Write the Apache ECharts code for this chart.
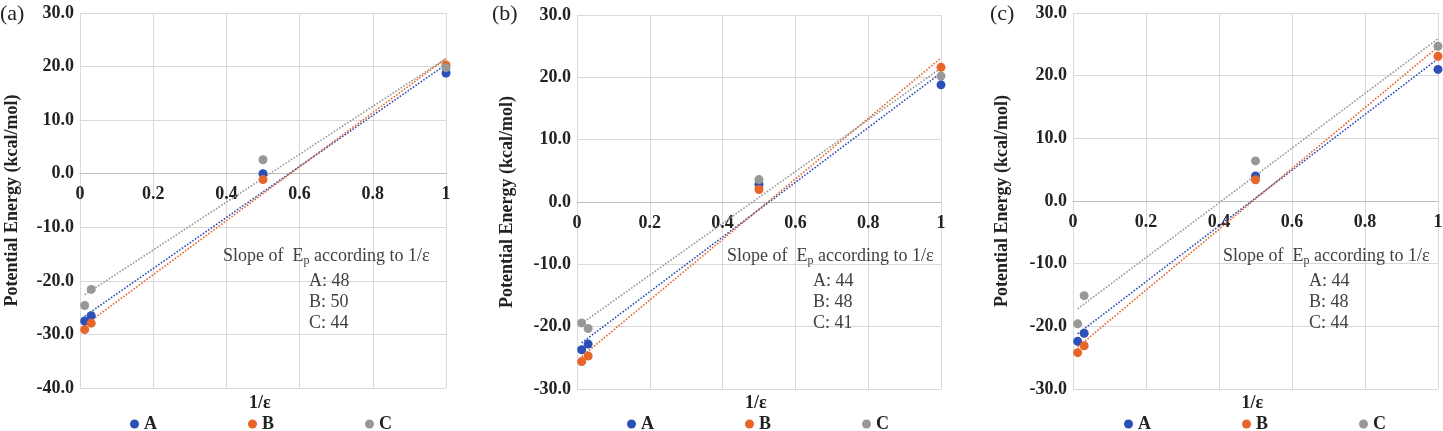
<!DOCTYPE html>
<html>
<head>
<meta charset="utf-8">
<script src="https://cdn.jsdelivr.net/npm/echarts@6/dist/echarts.min.js"></script>
<style>
  html, body { margin: 0; padding: 0; background: #fff; }
  #chart { width: 1443px; height: 431px; }
</style>
</head>
<body>
<div id="chart"></div>
<script>
// x = 1/epsilon
const xVals = [0.0128, 0.0306, 0.5, 1];
const trendX = [0.0128, 1];
const seriesNames = ['A', 'B', 'C'];
const panelLabels = ['(a)', '(b)', '(c)'];

// panel (a)
const aA = [-27.5, -26.5, 0.0, 18.8];
const aB = [-29.1, -27.9, -1.1, 20.3];
const aC = [-24.6, -21.6, 2.6, 19.8];
const aTrendA = [-26.6, 20.4];
const aTrendB = [-28.3, 21.5];
const aTrendC = [-22.6, 21.5];
const aSlopes = [48, 50, 44];

// panel (b)
const bA = [-23.7, -22.8, 2.8, 18.8];
const bB = [-25.6, -24.7, 2.0, 21.6];
const bC = [-19.4, -20.3, 3.6, 20.2];
const bTrendA = [-22.6, 20.7];
const bTrendB = [-24.8, 23.1];
const bTrendC = [-19.5, 21.5];
const bSlopes = [44, 48, 41];

// panel (c)
const cA = [-22.4, -21.1, 4.0, 21.0];
const cB = [-24.2, -23.1, 3.4, 23.1];
const cC = [-19.6, -15.1, 6.4, 24.7];
const cTrendA = [-21.2, 22.7];
const cTrendB = [-23.3, 24.6];
const cTrendC = [-17.2, 25.9];
const cSlopes = [44, 48, 44];

const yMins = [-40, -30, -30];
const yMaxs = [30, 30, 30];

const colors = ['#2B50B8', '#E8652A', '#989898'];
const FONT = '"Liberation Serif", "Times New Roman", serif';

const points = [[aA, aB, aC], [bA, bB, bC], [cA, cB, cC]];
const trends = [[aTrendA, aTrendB, aTrendC], [bTrendA, bTrendB, bTrendC], [cTrendA, cTrendB, cTrendC]];
const slopes = [aSlopes, bSlopes, cSlopes];

// layout of each panel
const grids = [
  { left: 80, top: 13, width: 366, height: 375 },
  { left: 577, top: 15, width: 364, height: 374 },
  { left: 1073, top: 13, width: 365, height: 376 }
];
const yNameGaps = [59, 61, 62];
const legendLefts = [130, 627, 1124];
const labelLefts = [0, 492, 990];
const noteLefts = [223, 727, 1223];
const noteLineLefts = [309, 813, 1309];

const chart = echarts.init(document.getElementById('chart'));

const xAxes = [], yAxes = [], series = [], legends = [], graphics = [];

grids.forEach((g, i) => {
  // x axis sits on y = 0: lift it up from the grid bottom
  const zeroFromBottom = g.height * (0 - yMins[i]) / (yMaxs[i] - yMins[i]);
  xAxes.push({
    type: 'value', gridIndex: i, min: 0, max: 1, interval: 0.2,
    position: 'bottom', offset: -zeroFromBottom,
    axisLine: { show: true, onZero: false, lineStyle: { color: '#bfbfbf', width: 1 } },
    axisTick: { show: false },
    axisLabel: { margin: 12, color: '#222', fontFamily: FONT, fontWeight: 'bold', fontSize: 18,
      alignMinLabel: 'center', alignMaxLabel: 'center', hideOverlap: false,
      formatter: v => String(v) },
    splitLine: { show: true, lineStyle: { color: '#d9d9d9', width: 1 } }
  });
  yAxes.push({
    type: 'value', gridIndex: i, min: yMins[i], max: yMaxs[i], interval: 10,
    axisLine: { show: false, onZero: false },
    axisTick: { show: false },
    axisLabel: { margin: 6, color: '#222', fontFamily: FONT, fontWeight: 'bold', fontSize: 18,
      formatter: v => v.toFixed(1) },
    splitLine: { show: true, lineStyle: { color: '#d9d9d9', width: 1 } },
    name: 'Potential Energy (kcal/mol)', nameLocation: 'middle', nameGap: yNameGaps[i],
    nameTextStyle: { color: '#222', fontFamily: FONT, fontWeight: 'bold', fontSize: 18 }
  });

  seriesNames.forEach((name, s) => {
    series.push({
      name: name + ' trend', type: 'line', xAxisIndex: i, yAxisIndex: i,
      data: trendX.map((x, k) => [x, trends[i][s][k]]),
      symbol: 'none', silent: true, z: 2,
      lineStyle: { color: colors[s], width: 1.6, type: 'dotted' }
    });
  });
  seriesNames.forEach((name, s) => {
    series.push({
      name: name, type: 'scatter', xAxisIndex: i, yAxisIndex: i,
      data: xVals.map((x, k) => [x, points[i][s][k]]),
      symbol: 'circle', symbolSize: 9, z: 3,
      itemStyle: { color: colors[s], opacity: 1 }
    });
  });

  legends.push({
    data: seriesNames, left: legendLefts[i], top: 415, orient: 'horizontal', padding: 0,
    icon: 'circle', itemWidth: 9, itemHeight: 9, itemGap: 91,
    textStyle: { color: '#222', fontFamily: FONT, fontWeight: 'bold', fontSize: 18 }
  });

  // panel label
  graphics.push({
    type: 'text', left: labelLefts[i], top: 3,
    style: { text: panelLabels[i], font: '22px ' + FONT, fill: '#222' }
  });
  // x axis title
  graphics.push({
    type: 'text', left: g.left + g.width / 2 - 14, top: 394,
    style: { text: '1/\u03b5', font: 'bold 18px ' + FONT, fill: '#222' }
  });
  // slope note
  graphics.push({
    type: 'text', left: noteLefts[i], top: 247, z: 10,
    style: {
      text: '{t|Slope of  E}{s|p}{t| according to 1/\u03b5}',
      rich: {
        t: { fontFamily: FONT, fontSize: 18, fill: '#404040', lineHeight: 22 },
        s: { fontFamily: FONT, fontSize: 12, fill: '#404040', lineHeight: 10, verticalAlign: 'bottom' }
      }
    }
  });
  seriesNames.forEach((name, s) => {
    graphics.push({
      type: 'text', left: noteLineLefts[i], top: 272 + s * 21, z: 10,
      style: { text: name + ': ' + slopes[i][s], font: '18px ' + FONT, fill: '#404040' }
    });
  });
});

chart.setOption({
  animation: false,
  backgroundColor: '#fff',
  grid: grids.map(g => Object.assign({ containLabel: false, outerBoundsMode: 'none' }, g)),
  xAxis: xAxes,
  yAxis: yAxes,
  legend: legends,
  series: series,
  graphic: graphics
});
</script>
</body>
</html>
